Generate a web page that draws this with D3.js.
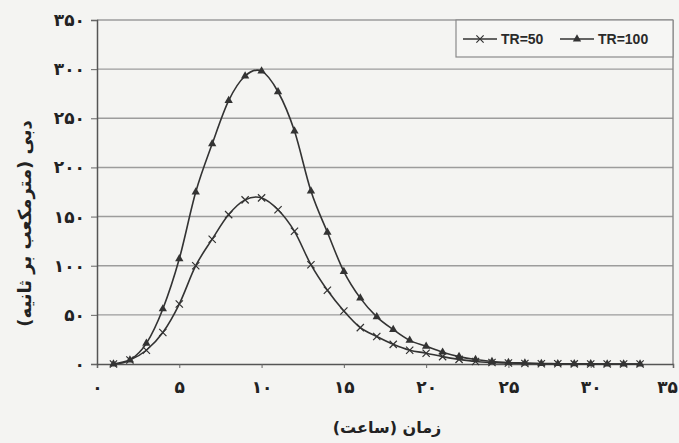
<!DOCTYPE html>
<html>
<head>
<meta charset="utf-8">
<script src="https://cdn.jsdelivr.net/npm/d3@7"></script>
<style>
  body { margin: 0; background: #f4f4f2; }
  svg { display: block; }
  .fa { font-family: "DejaVu Sans", sans-serif; fill: #222; }
  .legend text { font-family: "Liberation Sans", Arial, sans-serif; font-weight: bold; font-size: 14px; fill: #2a2a2a; }
</style>
</head>
<body>
<div id="chart"></div>
<script>
// hours (x) and discharge values (m3/s)
var hours = [1, 2, 3, 4, 5, 6, 7, 8, 9, 10, 11, 12, 13, 14, 15, 16, 17,
             18, 19, 20, 21, 22, 23, 24, 25, 26, 27, 28, 29, 30, 31, 32, 33];
var tr50 = [0, 4, 14, 32, 61, 100, 127, 152, 167, 169, 157, 135, 101, 75, 54, 37, 28,
            20, 14, 11, 7.5, 4.7, 2.5, 1.5, 1, 0.5, 0.3, 0.2, 0.1, 0, 0, 0, 0];
var tr100 = [0, 4, 21, 56, 107, 175, 224, 268, 293, 298, 277, 237, 176, 134, 94, 67, 48,
             35, 24, 18, 12, 7.5, 4.5, 2.5, 1.5, 1, 0.5, 0.3, 0.2, 0.1, 0, 0, 0];

var seriesNames = ["TR=50", "TR=100"];
var xTicks = [0, 5, 10, 15, 20, 25, 30, 35];
var xTickLabels = ["۰", "۵", "۱۰", "۱۵", "۲۰", "۲۵", "۳۰", "۳۵"];
var yTicks = [0, 50, 100, 150, 200, 250, 300, 350];
var yTickLabels = ["۰", "۵۰", "۱۰۰", "۱۵۰", "۲۰۰", "۲۵۰", "۳۰۰", "۳۵۰"];
var xTitle = "زمان (ساعت)";
var yTitle = "دبی (مترمکعب بر ثانیه)";

var margin = { top: 20, right: 6, bottom: 79, left: 97 };
var width = 679 - margin.left - margin.right,
    height = 443 - margin.top - margin.bottom;

var svg = d3.select("#chart").append("svg")
    .attr("width", 679)
    .attr("height", 443)
  .append("g")
    .attr("transform", "translate(" + margin.left + "," + margin.top + ")");

var x = d3.scaleLinear().domain([0, 35]).range([0, width]);
var y = d3.scaleLinear().domain([0, 350]).range([height, 0]);

// gridlines
svg.selectAll(".grid").data(yTicks.slice(1))
  .enter().append("line")
    .attr("class", "grid")
    .attr("x1", 0).attr("x2", width)
    .attr("y1", function(d) { return y(d); })
    .attr("y2", function(d) { return y(d); })
    .attr("stroke", "#9c9c9c")
    .attr("stroke-width", 1.4);

// plot frame (right side)
svg.append("line")
    .attr("x1", width).attr("x2", width)
    .attr("y1", 0).attr("y2", height)
    .attr("stroke", "#8a8a8a").attr("stroke-width", 1.4);

// axes
var xAxis = d3.axisBottom(x).tickValues(xTicks)
    .tickSize(4)
    .tickFormat(function(d, i) { return xTickLabels[i]; });
var yAxis = d3.axisLeft(y).tickValues(yTicks)
    .tickSize(6)
    .tickFormat(function(d, i) { return yTickLabels[i]; });

var gx = svg.append("g")
    .attr("transform", "translate(0," + height + ")")
    .call(xAxis);
gx.select(".domain").attr("stroke", "#555").attr("stroke-width", 1.5);
gx.selectAll(".tick line").attr("stroke", "#666");
gx.selectAll("text")
    .attr("class", "fa")
    .attr("fill", "#222")
    .attr("font-size", 17)
    .attr("font-weight", "bold")
    .attr("dy", "1.3em");
// last label sits at the window edge; pull it in a little
gx.selectAll(".tick").filter(function(d) { return d === 35; })
  .select("text").attr("x", -6);

var gy = svg.append("g").call(yAxis);
gy.select(".domain").attr("stroke", "#555").attr("stroke-width", 1.5);
gy.selectAll(".tick line").attr("stroke", "#666");
gy.selectAll("text")
    .attr("class", "fa")
    .attr("fill", "#222")
    .attr("font-size", 17)
    .attr("font-weight", "bold")
    .attr("x", -12);

// axis titles
svg.append("text")
    .attr("class", "fa")
    .attr("x", x(17.5) + 2)
    .attr("y", height + 69)
    .attr("text-anchor", "middle")
    .attr("font-size", 16)
    .attr("font-weight", "bold")
    .text(xTitle);

svg.append("text")
    .attr("class", "fa")
    .attr("transform", "translate(" + (-66) + "," + (y(143)) + ") rotate(-90)")
    .attr("text-anchor", "middle")
    .attr("font-size", 18)
    .attr("font-weight", "bold")
    .text(yTitle);

// lines
var line = d3.line()
    .x(function(d) { return x(d[0]); })
    .y(function(d) { return y(d[1]); })
    .curve(d3.curveCatmullRom.alpha(0));

var data50 = hours.map(function(h, i) { return [h, tr50[i]]; });
var data100 = hours.map(function(h, i) { return [h, tr100[i]]; });

svg.append("path").datum(data50)
    .attr("d", line)
    .attr("fill", "none")
    .attr("stroke", "#333")
    .attr("stroke-width", 1.6);

svg.append("path").datum(data100)
    .attr("d", line)
    .attr("fill", "none")
    .attr("stroke", "#333")
    .attr("stroke-width", 1.6);

// markers
var xSym = d3.symbol().type(d3.symbolX).size(36);
var triSym = d3.symbol().type(d3.symbolTriangle).size(30);

svg.selectAll(".m50").data(data50)
  .enter().append("path")
    .attr("class", "m50")
    .attr("transform", function(d) { return "translate(" + x(d[0]) + "," + y(d[1]) + ")"; })
    .attr("d", xSym)
    .attr("fill", "none")
    .attr("stroke", "#333")
    .attr("stroke-width", 1.2);

svg.selectAll(".m100").data(data100)
  .enter().append("path")
    .attr("class", "m100")
    .attr("transform", function(d) { return "translate(" + x(d[0]) + "," + y(d[1]) + ")"; })
    .attr("d", triSym)
    .attr("fill", "#333");

// legend
var legend = svg.append("g").attr("class", "legend")
    .attr("transform", "translate(" + (width - 217) + ",0)");

legend.append("rect")
    .attr("width", 217).attr("height", 37)
    .attr("fill", "#f6f6f4")
    .attr("stroke", "#8a8a8a")
    .attr("stroke-width", 1.2);

var items = [
  { name: seriesNames[0], sym: xSym, x0: 7, fill: "none", stroke: "#333" },
  { name: seriesNames[1], sym: triSym, x0: 104, fill: "#333", stroke: "none" }
];

items.forEach(function(it) {
  legend.append("line")
    .attr("x1", it.x0).attr("x2", it.x0 + 34)
    .attr("y1", 19).attr("y2", 19)
    .attr("stroke", "#333").attr("stroke-width", 1.6);
  legend.append("path")
    .attr("transform", "translate(" + (it.x0 + 17) + ",19)")
    .attr("d", it.sym)
    .attr("fill", it.fill)
    .attr("stroke", it.stroke)
    .attr("stroke-width", 1.2);
  legend.append("text")
    .attr("x", it.x0 + 38)
    .attr("y", 24)
    .text(it.name);
});
</script>
</body>
</html>
